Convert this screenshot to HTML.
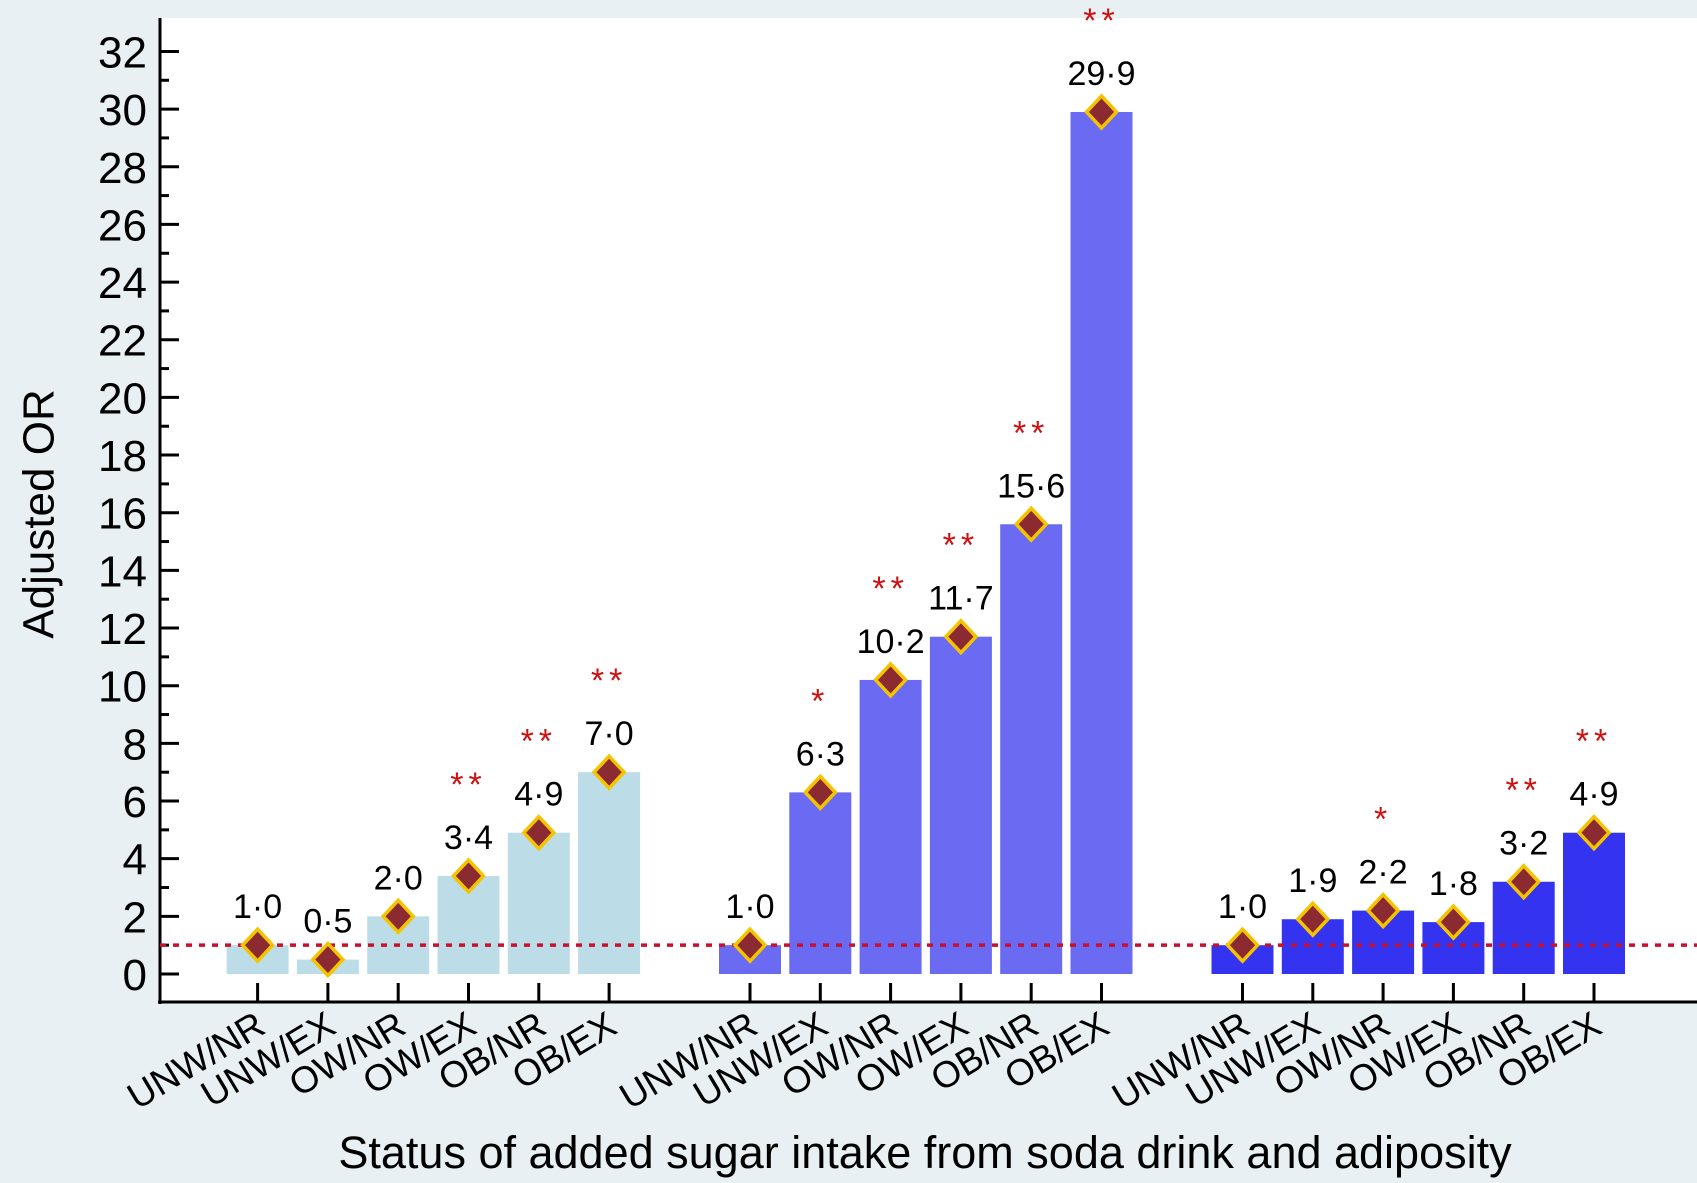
<!DOCTYPE html>
<html><head><meta charset="utf-8"><style>body{margin:0;background:#e8f0f3}svg{display:block}text{font-family:"Liberation Sans",Arial,sans-serif}</style></head>
<body>
<svg id="c" width="1697" height="1183" viewBox="0 0 1697 1183">
<rect x="0" y="0" width="1697" height="1183" fill="#e8f0f3"/>
<rect x="160" y="18" width="1537" height="984" fill="#ffffff"/>
<g id="g"></g>
<text x="42" y="514" font-size="44" text-anchor="middle" transform="rotate(-90 42 514)" dominant-baseline="middle">Adjusted OR</text>
<text x="925" y="1168" font-size="45" text-anchor="middle">Status of added sugar intake from soda drink and adiposity</text>
</svg>
<script>
const categories = ["UNW/NR","UNW/EX","OW/NR","OW/EX","OB/NR","OB/EX"];
const group1Values = [1.0,0.5,2.0,3.4,4.9,7.0];
const group2Values = [1.0,6.3,10.2,11.7,15.6,29.9];
const group3Values = [1.0,1.9,2.2,1.8,3.2,4.9];
const group1Stars = ["","","","**","**","**"];
const group2Stars = ["","*","**","**","**","**"];
const group3Stars = ["","","*","","**","**"];
const yTicks = [0,2,4,6,8,10,12,14,16,18,20,22,24,26,28,30,32];
const refValue = 1.0;

const NS="http://www.w3.org/2000/svg";
const g=document.getElementById('g');
function y(v){return 974 - v*28.83;}
const groupStart=[257.6,750,1242.5], step=70.3, bw=62;
function x(gi,i){return groupStart[gi]+i*step;}
function mk(tag,attrs,txt){const e=document.createElementNS(NS,tag);for(const k in attrs)e.setAttribute(k,attrs[k]);if(txt!==undefined)e.textContent=txt;g.appendChild(e);return e;}

let e=mk('line',{x1:160,y1:18,x2:160,y2:1004,stroke:'#000','stroke-width':3});


yTicks.forEach(t=>{
  let l=mk('line',{x1:160,x2:179,y1:y(t),y2:y(t),stroke:'#000','stroke-width':3});
  
  
  if(t<32){let m=mk('line',{x1:160,x2:169,y1:y(t+1),y2:y(t+1),stroke:'#000','stroke-width':3});
  
  }
  let tx=mk('text',{x:147,y:y(t)+16,'font-size':44,'text-anchor':'end'},String(t));
  
  
});
e=mk('line',{x1:158,y1:1002,x2:1697,y2:1002,stroke:'#000','stroke-width':3});



const groups=[[group1Values,group1Stars,'#bcdde8'],[group2Values,group2Stars,'#6a6af2'],[group3Values,group3Stars,'#3434f0']];
groups.forEach(([vals,stars,col],gi)=>{
  vals.forEach((v,i)=>{
    const cx=x(gi,i);
    let b=mk('rect',{x:cx-bw/2,y:y(v),width:bw,height:y(0)-y(v),fill:col});
    
    
  });
});
e=mk('line',{x1:160,x2:1697,y1:y(refValue),y2:y(refValue),stroke:'#c8102e','stroke-width':3.5,'stroke-dasharray':'6 7'});


groups.forEach(([vals,stars,col],gi)=>{
  vals.forEach((v,i)=>{
    const cx=x(gi,i), cy=y(v);
    let tk=mk('line',{x1:cx,x2:cx,y1:983,y2:1002,stroke:'#000','stroke-width':3});
    
    
    let d=mk('polygon',{points:`${cx},${cy-16} ${cx+15},${cy} ${cx},${cy+16} ${cx-15},${cy}`,fill:'#8b2a30',stroke:'#f5c400','stroke-width':3.5});
    
    
    let t=mk('text',{x:cx,y:cy-27,'font-size':34,'text-anchor':'middle'},v.toFixed(1).replace('.','·'));
    
    
    if(stars[i]){let s=mk('text',{x:cx,y:cy-80,'font-size':34,'text-anchor':'middle',fill:'#cc1111','letter-spacing':'5'},stars[i]);
    
    }
    let xl=mk('text',{x:cx+10,y:1032,'font-size':37,'text-anchor':'end',transform:`rotate(-31 ${cx+10} 1032)`},categories[i]);
    
    
  });
});
</script>
</body></html>
